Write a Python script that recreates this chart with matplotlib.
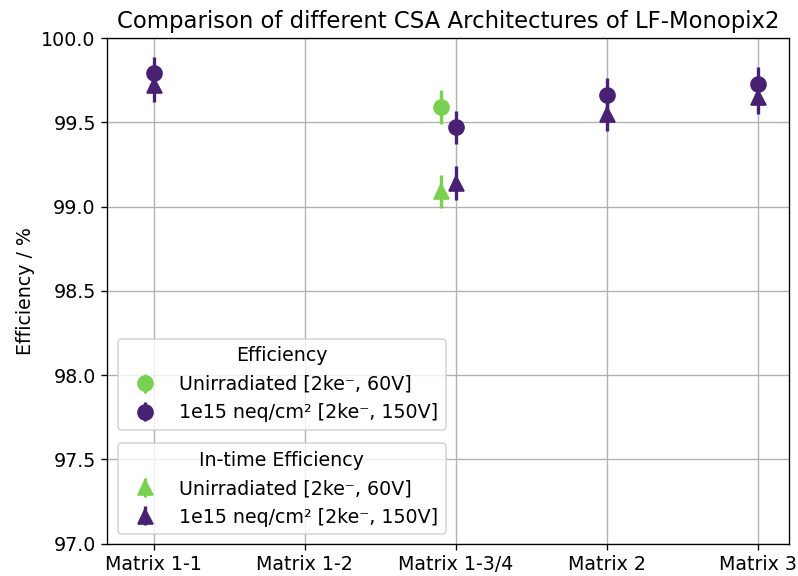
import matplotlib
matplotlib.use("Agg")
import matplotlib.pyplot as plt
import numpy as np

categories = ["Matrix 1-1", "Matrix 1-2", "Matrix 1-3/4", "Matrix 2", "Matrix 3"]

# Efficiency (circles)
eff_unirr = [np.nan, np.nan, 99.59, np.nan, np.nan]
eff_unirr_err = [0.1, 0.1, 0.1, 0.1, 0.1]
eff_irr = [99.79, np.nan, 99.47, 99.66, 99.73]
eff_irr_err = [0.1, 0.1, 0.1, 0.1, 0.1]

# In-time efficiency (triangles)
intime_unirr = [np.nan, np.nan, 99.09, np.nan, np.nan]
intime_unirr_err = [0.1, 0.1, 0.1, 0.1, 0.1]
intime_irr = [99.72, np.nan, 99.14, 99.55, 99.65]
intime_irr_err = [0.1, 0.1, 0.1, 0.1, 0.1]

label_unirr = "Unirradiated [2ke\u207b, 60V]"
label_irr = "1e15 neq/cm\u00b2 [2ke\u207b, 150V]"

green = "#7ad151"
purple = "#482173"

plt.rcParams["font.size"] = 11.4

fig, ax = plt.subplots(figsize=(6.65, 4.8), dpi=120)
fig.subplots_adjust(left=0.1347, right=0.9887, top=0.934, bottom=0.056)

x = np.arange(len(categories))
offset = -0.1

ms = 9
el = 2
h1 = ax.errorbar(x + offset, eff_unirr, yerr=eff_unirr_err, fmt="o", color=green,
                 markersize=ms, elinewidth=el, label=label_unirr)
h2 = ax.errorbar(x, eff_irr, yerr=eff_irr_err, fmt="o", color=purple,
                 markersize=ms, elinewidth=el, label=label_irr)
h3 = ax.errorbar(x + offset, intime_unirr, yerr=intime_unirr_err, fmt="^", color=green,
                 markersize=ms, elinewidth=el, label=label_unirr)
h4 = ax.errorbar(x, intime_irr, yerr=intime_irr_err, fmt="^", color=purple,
                 markersize=ms, elinewidth=el, label=label_irr)

ax.set_xticks(x)
ax.set_xticklabels(categories)
ax.tick_params(axis="x", pad=3)
ax.set_xlim(-0.305, 4.205)
ax.set_ylim(97.0, 100.0)
ax.set_yticks(np.arange(97.0, 100.01, 0.5))
ax.set_ylabel("Efficiency / %")
ax.set_title("Comparison of different CSA Architectures of LF-Monopix2")
ax.grid(True)
ax.set_axisbelow(True)

leg1 = ax.legend(handles=[h1, h2], title="Efficiency", loc="lower left",
                 bbox_to_anchor=(0.0154, 0.225), borderaxespad=0)
ax.add_artist(leg1)
leg2 = ax.legend(handles=[h3, h4], title="In-time Efficiency", loc="lower left",
                 bbox_to_anchor=(0.0154, 0.019), borderaxespad=0)

fig.savefig("out.png", dpi=120)
